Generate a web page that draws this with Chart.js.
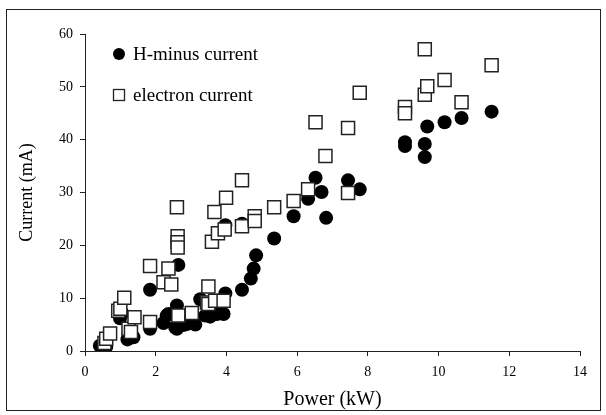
<!DOCTYPE html>
<html><head><meta charset="utf-8">
<script src="https://cdn.jsdelivr.net/npm/chart.js@4.4.0/dist/chart.umd.min.js"></script>
<style>html,body{margin:0;padding:0;background:#fff;}#wrap{width:606px;height:415px;}</style>
</head><body><div id="wrap"><canvas id="c" width="606" height="415"></canvas></div>
<script>
// H-minus current (filled circles)
const hPower   = [0.42,0.52,0.6,0.99,1.05,1.23,1.37,1.2,1.84,1.84,2.22,2.31,2.36,2.55,2.6,2.64,2.6,2.78,2.88,2.95,3.07,3.12,3.26,3.4,3.4,3.54,3.6,3.73,3.77,3.92,3.97,3.97,4.44,4.44,4.69,4.77,4.84,5.35,5.9,6.31,6.52,6.69,6.82,7.44,7.77,9.05,9.05,9.61,9.61,9.68,10.17,10.65,11.5];
const hCurrent = [1.0,1.4,0.8,6.2,7.2,3.4,2.6,2.2,11.6,4.2,5.3,6.7,7.0,4.5,8.6,16.3,4.2,4.9,5.1,6.0,5.3,5.0,9.8,9.2,6.7,6.5,8.0,7.0,8.3,7.0,10.9,23.8,11.6,24.1,13.7,15.6,18.1,21.3,25.5,28.8,32.8,30.1,25.2,32.3,30.6,39.5,38.8,39.2,36.7,42.5,43.3,44.1,45.3];
// electron current (open squares)
const ePower   = [0.55,0.6,0.71,0.94,1.0,1.11,1.23,1.3,1.4,1.84,1.84,2.22,2.36,2.44,2.6,2.62,2.62,2.62,2.64,3.02,3.45,3.49,3.49,3.59,3.66,3.68,3.76,3.92,3.95,3.99,4.44,4.44,4.8,4.8,5.35,5.9,6.31,6.52,6.8,7.44,7.44,7.77,9.05,9.05,9.61,9.61,9.68,10.17,10.65,11.5];
const eCurrent = [1.5,2.3,3.3,7.6,8.0,10.1,4.2,3.6,6.4,5.5,16.1,13.0,15.6,12.6,27.2,21.7,20.6,19.6,6.7,7.2,9.2,12.2,8.9,20.7,26.3,9.5,22.3,9.5,23.0,29.0,32.3,23.6,25.5,24.6,27.2,28.4,30.6,43.3,36.9,29.9,42.2,48.9,46.2,45.0,57.1,48.5,50.1,51.3,47.1,54.1];
const seriesNames = ['H-minus current','electron current'];
const xLimits = [0,14], xStep = 2;
const yLimits = [0,60], yStep = 10;
const xTitle = 'Power (kW)', yTitle = 'Current (mA)';

const FONT = 'Liberation Serif, Times New Roman, serif';
const toPts = (xs, ys) => xs.map((x,i)=>({x, y: ys[i]}));

const decor = {
  id: 'decor',
  beforeDraw(chart){
    const ctx = chart.ctx;
    ctx.save();
    ctx.fillStyle = '#fff';
    ctx.fillRect(0,0,chart.width,chart.height);
    ctx.strokeStyle = '#222';
    ctx.lineWidth = 1;
    ctx.strokeRect(6.5, 9.5, 594, 401);
    ctx.restore();
  },
  afterDraw(chart){
    const ctx = chart.ctx, a = chart.chartArea;
    ctx.save();
    const mx = a.left + 34;
    const y1 = a.top + 20, y2 = a.top + 61;
    ctx.fillStyle = '#000';
    ctx.beginPath(); ctx.arc(mx, y1, 6, 0, Math.PI*2); ctx.fill();
    ctx.fillStyle = '#fff'; ctx.strokeStyle = '#222'; ctx.lineWidth = 1.3;
    ctx.fillRect(mx-5.5, y2-5.5, 11, 11); ctx.strokeRect(mx-5.5, y2-5.5, 11, 11);
    ctx.fillStyle = '#000';
    ctx.font = '19px ' + FONT;
    ctx.textBaseline = 'middle';
    ctx.fillText(seriesNames[0], mx + 14, y1 + 1);
    ctx.fillText(seriesNames[1], mx + 14, y2 + 1);
    ctx.restore();
  }
};

new Chart(document.getElementById('c'), {
  type: 'scatter',
  data: {
    datasets: [
      { label: seriesNames[1], data: toPts(ePower, eCurrent), pointStyle: 'rect', radius: 9.2,
        backgroundColor: '#fff', borderColor: '#222', borderWidth: 1.5, order: 0 },
      { label: seriesNames[0], data: toPts(hPower, hCurrent), pointStyle: 'circle', radius: 7,
        backgroundColor: '#000', borderColor: '#000', borderWidth: 0, order: 1 }
    ]
  },
  options: {
    responsive: false, animation: false, devicePixelRatio: 1,
    layout: { padding: { top: 34, right: 26, bottom: 0, left: 0 } },
    plugins: { legend: { display: false }, tooltip: { enabled: false } },
    scales: {
      x: {
        type: 'linear', min: xLimits[0], max: xLimits[1],
        ticks: { stepSize: xStep, color: '#000', font: { family: FONT, size: 14 }, padding: 8 },
        grid: { drawOnChartArea: false, drawTicks: true, tickLength: 5, color: '#222' },
        border: { color: '#222', width: 1 },
        title: { display: true, text: xTitle, color: '#000', font: { family: FONT, size: 20 }, padding: { top: 0, bottom: 3 } },
        afterFit(s){ s.height = 64; }
      },
      y: {
        type: 'linear', min: yLimits[0], max: yLimits[1],
        ticks: { stepSize: yStep, color: '#000', font: { family: FONT, size: 14 }, padding: 7 },
        grid: { drawOnChartArea: false, drawTicks: true, tickLength: 5, color: '#222' },
        border: { color: '#222', width: 1 },
        title: { display: true, text: yTitle, color: '#000', font: { family: FONT, size: 18 }, padding: { top: 16, bottom: 0 } },
        afterFit(s){ s.width = 85; }
      }
    }
  },
  plugins: [decor]
});
</script></body></html>
